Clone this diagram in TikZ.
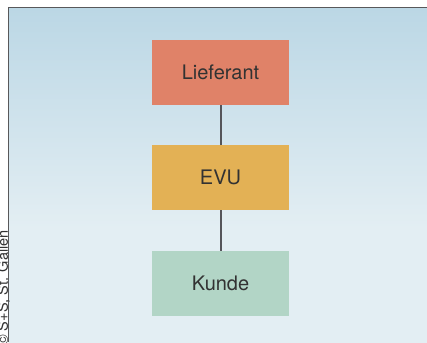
\documentclass[tikz,border=0pt]{standalone}
\usepackage{fontspec}
\setmainfont{TeX Gyre Heros}
\definecolor{bgtop}{RGB}{187,215,229}
\definecolor{bgbot}{RGB}{227,238,243}
\definecolor{framecol}{RGB}{88,88,90}
\definecolor{liefcol}{RGB}{224,130,104}
\definecolor{evucol}{RGB}{227,177,85}
\definecolor{kundcol}{RGB}{178,213,198}
\definecolor{txtcol}{RGB}{50,50,50}
\definecolor{linecol}{RGB}{85,85,90}
\pgfdeclareverticalshading{bgshade}{100bp}{color(0bp)=(bgbot); color(25bp)=(bgbot); color(42bp)=(bgbot); color(75bp)=(bgtop); color(100bp)=(bgtop)}
\tikzset{
  box/.style={rectangle, inner sep=0pt, minimum width=137pt, minimum height=65pt, font=\fontsize{20}{22}\selectfont, text=txtcol},
  conn/.style={draw=linecol, line width=2pt}
}
\begin{document}
\begin{tikzpicture}[x=1pt,y=-1pt]
\useasboundingbox (0,0) rectangle (427,342);
\fill[white] (0,0) rectangle (427,342);
\shade[shading=bgshade] (8.5,7.5) rectangle (427,342);
\draw[framecol, line width=1.4pt] (8.5,342) -- (8.5,7.5) -- (427,7.5);
\node[box, fill=liefcol] (lief) at (220.5,72.5) {Lieferant};
\node[box, fill=evucol] (evu) at (220.5,177.5) {EVU};
\node[box, fill=kundcol] (kunde) at (220.5,283.5) {Kunde};
\draw[conn] (lief.south) -- (evu.north);
\draw[conn] (evu.south) -- (kunde.north);
\node[rotate=90, anchor=base west, inner sep=0pt, text=txtcol, font=\fontsize{14.5}{16}\selectfont] (copy) at (8,346) {© S+S, St. Gallen};
\end{tikzpicture}
\end{document}
